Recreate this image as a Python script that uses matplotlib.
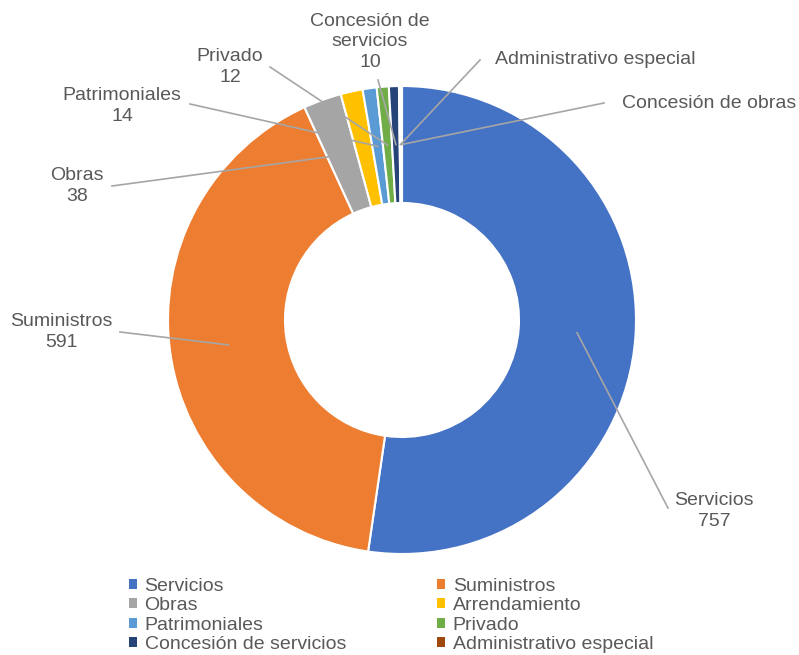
import numpy as np
import matplotlib.pyplot as plt
from matplotlib.patches import Patch

categories = ['Servicios', 'Suministros', 'Obras', 'Arrendamiento', 'Patrimoniales',
              'Privado', 'Concesión de servicios', 'Administrativo especial', 'Concesión de obras']
values = [757, 591, 38, 22, 14, 12, 10, 2, 1]
colors = ['#4472C4', '#ED7D31', '#A5A5A5', '#FFC000', '#5B9BD5',
          '#70AD47', '#264478', '#9E480E', '#636363']

# label text, text anchor (px), leader start (px), alignment
labels = {
    'Servicios': ('Servicios\n757', (714, 511), (668, 508), 'center'),
    'Suministros': ('Suministros\n591', (61, 332), (120, 332), 'center'),
    'Obras': ('Obras\n38', (77, 186), (112, 186), 'center'),
    'Patrimoniales': ('Patrimoniales\n14', (122, 106), (190, 104), 'center'),
    'Privado': ('Privado\n12', (230, 67), (270, 67), 'center'),
    'Concesión de servicios': ('Concesión de\nservicios\n10', (370, 42), (378, 80), 'center'),
    'Administrativo especial': ('Administrativo especial', (495, 60), (480, 60), 'left'),
    'Concesión de obras': ('Concesión de obras', (622, 103), (604, 103), 'left'),
}

W, H = 799, 655
plt.rcParams['font.family'] = ['Liberation Sans', 'DejaVu Sans']
fig = plt.figure(figsize=(W / 100, H / 100), dpi=100)
ax = fig.add_axes([0, 0, 1, 1])

cx, cy, r = 402, H - 320, 234
width = 0.5
wedges, _ = ax.pie(values, colors=colors, startangle=90, counterclock=False,
                   center=(cx, cy), radius=r, frame=True,
                   wedgeprops=dict(width=r * width, edgecolor='white', linewidth=1.5))
ax.set_xlim(0, W)
ax.set_ylim(0, H)
ax.set_aspect('auto')
ax.axis('off')

tc = '#595959'
fs = 14
rm = r * (1 - width / 2)
for w, name in zip(wedges, categories):
    if name not in labels:
        continue
    txt, (tx, ty), (lx, ly), ha = labels[name]
    ang = np.deg2rad((w.theta1 + w.theta2) / 2)
    px, py = cx + rm * np.cos(ang), cy + rm * np.sin(ang)
    ax.text(tx, H - ty, txt, ha=ha, va='center', fontsize=fs, color=tc, linespacing=1.25)
    ax.plot([lx, px], [H - ly, py], color='#A6A6A6', lw=1.2)

# legend fills column by column, so reorder to read row by row
order = [0, 2, 4, 6, 1, 3, 5, 7]
handles = [Patch(facecolor=colors[i], edgecolor='none') for i in order]
leg = fig.legend(handles, [categories[i] for i in order], ncol=2, loc='upper left',
                 bbox_to_anchor=(129 / W, 1 - 578 / H), frameon=False,
                 fontsize=fs, handlelength=0.4, handleheight=0.4, handletextpad=0.4,
                 labelspacing=0.12, columnspacing=4.7, borderaxespad=0, borderpad=0)
for t in leg.get_texts():
    t.set_color(tc)

fig.savefig('out.png', dpi=100)
